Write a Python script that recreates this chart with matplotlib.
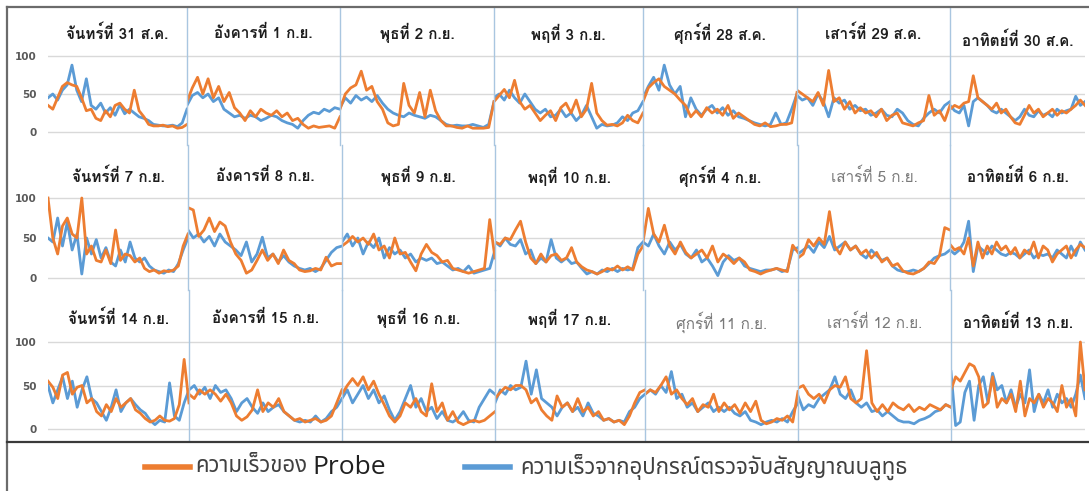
import matplotlib
matplotlib.use('Agg')
import matplotlib.pyplot as plt
from matplotlib.lines import Line2D
import numpy as np

W, H = 1089, 491
ORANGE = '#ED7D31'
BLUE = '#5B9BD5'

# day titles, one list per row of panels
titles_row1 = ['จันทร์ที่ 31 ส.ค.', 'อังคารที่ 1 ก.ย.', 'พุธที่ 2 ก.ย.', 'พฤที่ 3 ก.ย.',
               'ศุกร์ที่ 28 ส.ค.', 'เสาร์ที่ 29 ส.ค.', 'อาทิตย์ที่ 30 ส.ค.']
titles_row2 = ['จันทร์ที่ 7 ก.ย.', 'อังคารที่ 8 ก.ย.', 'พุธที่ 9 ก.ย.', 'พฤที่ 10 ก.ย.',
               'ศุกร์ที่ 4 ก.ย.', 'เสาร์ที่ 5 ก.ย.', 'อาทิตย์ที่ 6 ก.ย.']
titles_row3 = ['จันทร์ที่ 14 ก.ย.', 'อังคารที่ 15 ก.ย.', 'พุธที่ 16 ก.ย.', 'พฤที่ 17 ก.ย.',
               'ศุกร์ที่ 11 ก.ย.', 'เสาร์ที่ 12 ก.ย.', 'อาทิตย์ที่ 13 ก.ย.']

# speed from bluetooth detectors (km/h), one list per day
bt_row1 = [
    [45, 50, 42, 55, 62, 88, 55, 40, 70, 35, 30, 38, 25, 32, 22, 36, 24, 30, 25, 20, 18, 15, 10, 9, 8, 8, 9, 7, 12, 30],
    [35, 48, 52, 45, 50, 40, 45, 30, 25, 20, 22, 18, 22, 20, 15, 18, 22, 20, 15, 12, 10, 5, 15, 22, 26, 24, 30, 27, 32, 30],
    [32, 45, 38, 48, 42, 46, 40, 48, 38, 30, 25, 22, 20, 25, 22, 20, 18, 22, 20, 15, 10, 8, 9, 8, 8, 10, 8, 6, 10, 40],
    [45, 50, 42, 55, 45, 38, 50, 40, 30, 25, 30, 20, 22, 30, 20, 25, 15, 22, 35, 20, 5, 10, 8, 9, 12, 20, 15, 25, 28, 40],
    [45, 60, 72, 55, 88, 62, 50, 60, 20, 45, 30, 22, 30, 35, 25, 32, 22, 28, 20, 18, 15, 12, 10, 8, 10, 25, 10, 12, 30, 50],
    [48, 42, 45, 35, 50, 40, 20, 45, 38, 42, 30, 35, 28, 30, 22, 25, 30, 22, 20, 30, 25, 15, 10, 8, 18, 25, 30, 25, 35, 40],
    [35, 28, 25, 35, 8, 40, 45, 40, 35, 28, 25, 30, 25, 20, 15, 20, 30, 22, 20, 28, 22, 25, 20, 30, 25, 28, 30, 47, 35, 40],
]
bt_row2 = [
    [50, 45, 75, 40, 70, 35, 55, 5, 50, 30, 48, 25, 38, 20, 15, 35, 20, 45, 25, 20, 25, 15, 10, 8, 6, 10, 8, 18, 35, 50],
    [60, 50, 55, 45, 52, 40, 55, 45, 40, 35, 28, 45, 20, 30, 51, 25, 30, 20, 28, 20, 15, 12, 10, 12, 8, 12, 22, 32, 38, 40],
    [45, 55, 40, 50, 30, 45, 38, 50, 25, 38, 30, 35, 25, 30, 20, 25, 22, 25, 18, 20, 15, 10, 12, 8, 15, 6, 8, 10, 12, 35],
    [45, 40, 50, 42, 40, 48, 30, 35, 18, 25, 20, 48, 25, 20, 25, 18, 20, 12, 5, 8, 5, 10, 8, 12, 8, 12, 10, 12, 38, 45],
    [45, 40, 55, 40, 30, 45, 35, 42, 30, 25, 35, 20, 25, 15, 3, 20, 28, 22, 25, 15, 12, 10, 8, 10, 10, 12, 8, 10, 35, 38],
    [30, 35, 40, 32, 45, 38, 52, 35, 40, 45, 35, 40, 30, 25, 35, 28, 22, 25, 15, 10, 8, 8, 10, 8, 12, 18, 25, 28, 30, 35],
    [35, 30, 35, 45, 71, 8, 40, 35, 30, 40, 35, 30, 28, 32, 30, 25, 30, 35, 25, 30, 28, 30, 25, 35, 30, 25, 40, 28, 45, 35],
]
bt_row3 = [
    [50, 30, 45, 60, 35, 55, 25, 45, 60, 35, 30, 20, 10, 25, 45, 20, 30, 35, 28, 22, 18, 10, 5, 10, 8, 53, 15, 10, 30, 45],
    [45, 50, 40, 48, 35, 50, 42, 45, 35, 20, 30, 35, 25, 18, 30, 20, 25, 28, 20, 15, 10, 8, 10, 8, 15, 8, 12, 20, 25, 35],
    [35, 45, 30, 40, 50, 35, 45, 30, 38, 22, 10, 20, 35, 50, 25, 35, 20, 25, 12, 20, 10, 8, 12, 20, 10, 8, 25, 35, 45, 40],
    [30, 45, 40, 50, 45, 48, 78, 40, 68, 35, 30, 25, 15, 25, 30, 20, 25, 15, 30, 18, 15, 10, 12, 8, 10, 8, 20, 25, 35, 40],
    [40, 45, 40, 50, 42, 66, 35, 40, 25, 30, 20, 25, 30, 20, 25, 20, 25, 18, 15, 20, 10, 8, 5, 8, 10, 8, 12, 8, 20, 30],
    [38, 22, 28, 25, 35, 40, 45, 60, 40, 35, 45, 30, 25, 30, 20, 22, 15, 20, 15, 10, 8, 8, 6, 10, 12, 15, 20, 22, 28, 25],
    [66, 4, 8, 42, 55, 10, 50, 60, 30, 64, 45, 50, 30, 45, 25, 40, 30, 68, 20, 40, 30, 45, 25, 40, 30, 35, 25, 40, 62, 35],
]

# speed from probe vehicles (km/h), one list per day
probe_row1 = [
    [35, 30, 45, 60, 65, 62, 60, 45, 28, 30, 18, 15, 28, 20, 35, 38, 30, 25, 55, 28, 20, 10, 8, 8, 9, 7, 8, 5, 6, 10],
    [40, 58, 72, 50, 70, 45, 60, 40, 52, 32, 25, 15, 28, 20, 30, 25, 22, 28, 20, 25, 15, 18, 10, 5, 8, 6, 7, 8, 5, 20],
    [30, 50, 58, 62, 80, 55, 60, 40, 30, 12, 8, 10, 64, 35, 25, 52, 20, 55, 28, 15, 8, 8, 6, 5, 8, 5, 5, 5, 6, 40],
    [40, 48, 56, 45, 68, 40, 30, 35, 25, 15, 22, 28, 15, 32, 38, 25, 42, 20, 30, 64, 25, 15, 9, 10, 8, 12, 22, 15, 12, 25],
    [40, 58, 65, 70, 60, 55, 50, 42, 35, 20, 28, 20, 32, 25, 30, 22, 35, 18, 25, 20, 15, 10, 8, 12, 7, 8, 10, 10, 12, 52],
    [55, 50, 45, 40, 52, 35, 81, 40, 45, 30, 40, 25, 32, 25, 28, 20, 30, 15, 22, 25, 12, 10, 8, 12, 15, 48, 22, 28, 15, 35],
    [30, 35, 32, 38, 40, 74, 45, 40, 35, 30, 38, 25, 30, 20, 12, 10, 22, 35, 25, 30, 20, 25, 30, 22, 28, 25, 30, 35, 42, 35],
]
probe_row2 = [
    [100, 50, 30, 65, 75, 55, 50, 100, 30, 40, 22, 20, 35, 18, 60, 22, 30, 28, 20, 25, 12, 8, 10, 6, 9, 8, 10, 15, 40, 55],
    [88, 85, 52, 60, 75, 58, 70, 65, 45, 30, 22, 6, 10, 22, 35, 22, 30, 18, 35, 22, 18, 10, 8, 9, 12, 10, 26, 15, 18, 18],
    [40, 45, 52, 45, 50, 42, 55, 35, 40, 25, 50, 30, 32, 20, 9, 30, 42, 32, 28, 20, 22, 12, 10, 8, 6, 8, 10, 12, 73, 25],
    [45, 42, 50, 48, 60, 71, 45, 25, 18, 30, 20, 28, 30, 22, 25, 38, 20, 14, 10, 8, 5, 8, 12, 10, 15, 10, 14, 10, 30, 40],
    [45, 87, 55, 45, 66, 40, 30, 45, 32, 25, 30, 35, 25, 40, 20, 30, 25, 18, 25, 20, 10, 8, 5, 8, 10, 12, 10, 8, 41, 32],
    [25, 30, 48, 40, 50, 42, 83, 40, 30, 45, 35, 40, 30, 35, 25, 32, 20, 25, 15, 18, 9, 6, 5, 8, 12, 20, 18, 28, 63, 60],
    [42, 35, 38, 30, 50, 15, 45, 25, 40, 30, 45, 35, 40, 30, 38, 25, 35, 30, 45, 25, 40, 35, 20, 30, 35, 40, 25, 35, 42, 38],
]
probe_row3 = [
    [55, 48, 35, 62, 65, 40, 48, 50, 30, 35, 20, 15, 28, 20, 35, 25, 30, 35, 22, 18, 12, 8, 10, 15, 10, 9, 12, 28, 80, 30],
    [40, 35, 45, 40, 45, 40, 32, 40, 30, 15, 10, 14, 22, 45, 20, 30, 25, 35, 20, 15, 10, 12, 8, 10, 12, 8, 10, 15, 30, 45],
    [40, 50, 58, 50, 60, 45, 55, 40, 28, 15, 8, 15, 30, 25, 35, 20, 15, 52, 20, 30, 10, 20, 8, 5, 8, 10, 8, 10, 15, 20],
    [35, 42, 48, 45, 50, 50, 45, 30, 35, 22, 15, 10, 38, 25, 30, 20, 35, 20, 25, 15, 20, 10, 12, 8, 10, 5, 15, 30, 42, 45],
    [40, 45, 42, 50, 60, 40, 45, 35, 28, 35, 20, 28, 25, 40, 20, 30, 22, 28, 18, 30, 20, 32, 10, 6, 8, 12, 10, 15, 8, 43],
    [47, 50, 40, 35, 40, 30, 45, 50, 48, 60, 35, 30, 35, 90, 30, 20, 28, 20, 30, 25, 22, 28, 20, 25, 22, 28, 25, 22, 28, 25],
    [45, 60, 55, 65, 75, 72, 60, 25, 30, 60, 25, 35, 30, 40, 20, 55, 15, 35, 30, 40, 25, 35, 30, 20, 50, 25, 35, 15, 100, 45],
]

y_ticks = [0, 50, 100]

# titles printed in plain grey instead of bold
grey_titles = {'เสาร์ที่ 5 ก.ย.', 'ศุกร์ที่ 11 ก.ย.', 'เสาร์ที่ 12 ก.ย.'}

# layout in pixels: panel edges per row, and (top, bottom, y of 0, y of 100, title y)
edges = [[48, 187, 340, 494, 643, 797, 950, 1085],
         [48, 188, 342, 495, 643, 798, 950, 1085],
         [48, 189, 342, 495, 645, 798, 951, 1085]]
rows_px = [(7, 145, 132, 56, 33), (145, 290, 278, 198, 176), (290, 441, 429, 342, 318)]
title_shift = {'อาทิตย์ที่ 30 ส.ค.': 7, 'ศุกร์ที่ 11 ก.ย.': 4,
               'เสาร์ที่ 12 ก.ย.': 4, 'อาทิตย์ที่ 13 ก.ย.': 4}

titles = [titles_row1, titles_row2, titles_row3]
bt = [bt_row1, bt_row2, bt_row3]
probe = [probe_row1, probe_row2, probe_row3]

thai_title = ['Loma', 'DejaVu Sans']
thai_legend = ['Noto Sans Thai', 'DejaVu Sans']

fig = plt.figure(figsize=(W / 100, H / 100), dpi=100)


def fx(px):
    return px / W


def fy(py):
    return 1 - py / H


for r in range(3):
    top, bot, y0, y100, ty = rows_px[r]
    s = (y0 - y100) / 100.0
    lo = -(bot - y0) / s
    hi = 100 + (y100 - top) / s
    for d in range(7):
        L, R = edges[r][d], edges[r][d + 1]
        ax = fig.add_axes([fx(L), fy(bot), (R - L) / W, (bot - top) / H])
        ax.patch.set_alpha(0)
        b = bt[r][d]
        o = probe[r][d]
        x = np.arange(len(b))
        ax.plot(x, b, color=BLUE, lw=2.0, solid_joinstyle='round')
        ax.plot(x, o, color=ORANGE, lw=2.0, solid_joinstyle='round')
        ax.set_xlim(0, len(b) - 1)
        ax.set_ylim(lo, hi)
        ax.set_xticks([])
        ax.set_yticks(y_ticks)
        ax.grid(axis='y', color='#d9d9d9', lw=1.0)
        ax.set_axisbelow(True)
        for sp in ax.spines.values():
            sp.set_visible(False)
        if d == 0:
            ax.tick_params(axis='y', length=0, pad=8, labelsize=7.5, labelcolor='#595959')
            for lab in ax.get_yticklabels():
                lab.set_fontweight('bold')
        else:
            ax.tick_params(axis='y', length=0, labelleft=False)
            ax.spines['left'].set_visible(True)
            ax.spines['left'].set_color('#a9c6e0')
            ax.spines['left'].set_linewidth(1.0)
        t = titles[r][d]
        tyy = ty + title_shift.get(t, 0)
        if t in grey_titles:
            kw = dict(color='#7a7a7a', fontweight='normal')
        else:
            kw = dict(color='#1e1e1e', fontweight='bold')
        ax.text(0.5, (bot - tyy) / (bot - top), t, transform=ax.transAxes,
                ha='center', va='center', fontsize=11, family=thai_title, **kw)

# frame around the panels and the legend strip
frame = dict(color='#6b6b6b', lw=1.6, transform=fig.transFigure)
fig.add_artist(Line2D([fx(7), fx(1089)], [fy(7), fy(7)], **frame))
fig.add_artist(Line2D([fx(7), fx(7)], [fy(7), fy(491)], **frame))
fig.add_artist(Line2D([fx(7), fx(1089)], [fy(442), fy(442)], color='#3a3a3a', lw=1.6,
                      transform=fig.transFigure))

# legend
ly = fy(467)
fig.add_artist(Line2D([fx(145), fx(190)], [ly, ly], color=ORANGE, lw=4, transform=fig.transFigure))
fig.text(fx(195), ly, 'ความเร็วของ', family=thai_legend, fontweight='light', fontsize=16,
         color='#404040', va='center')
fig.text(fx(312), ly, 'Probe', family='Open Sans', fontsize=19, color='#202020', va='center')
fig.add_artist(Line2D([fx(465), fx(510)], [ly, ly], color=BLUE, lw=4, transform=fig.transFigure))
fig.text(fx(520), ly, 'ความเร็วจากอุปกรณ์ตรวจจับสัญญาณบลูทูธ', family=thai_legend,
         fontweight='light', fontsize=16, color='#404040', va='center')

fig.savefig('out.png', dpi=100)
